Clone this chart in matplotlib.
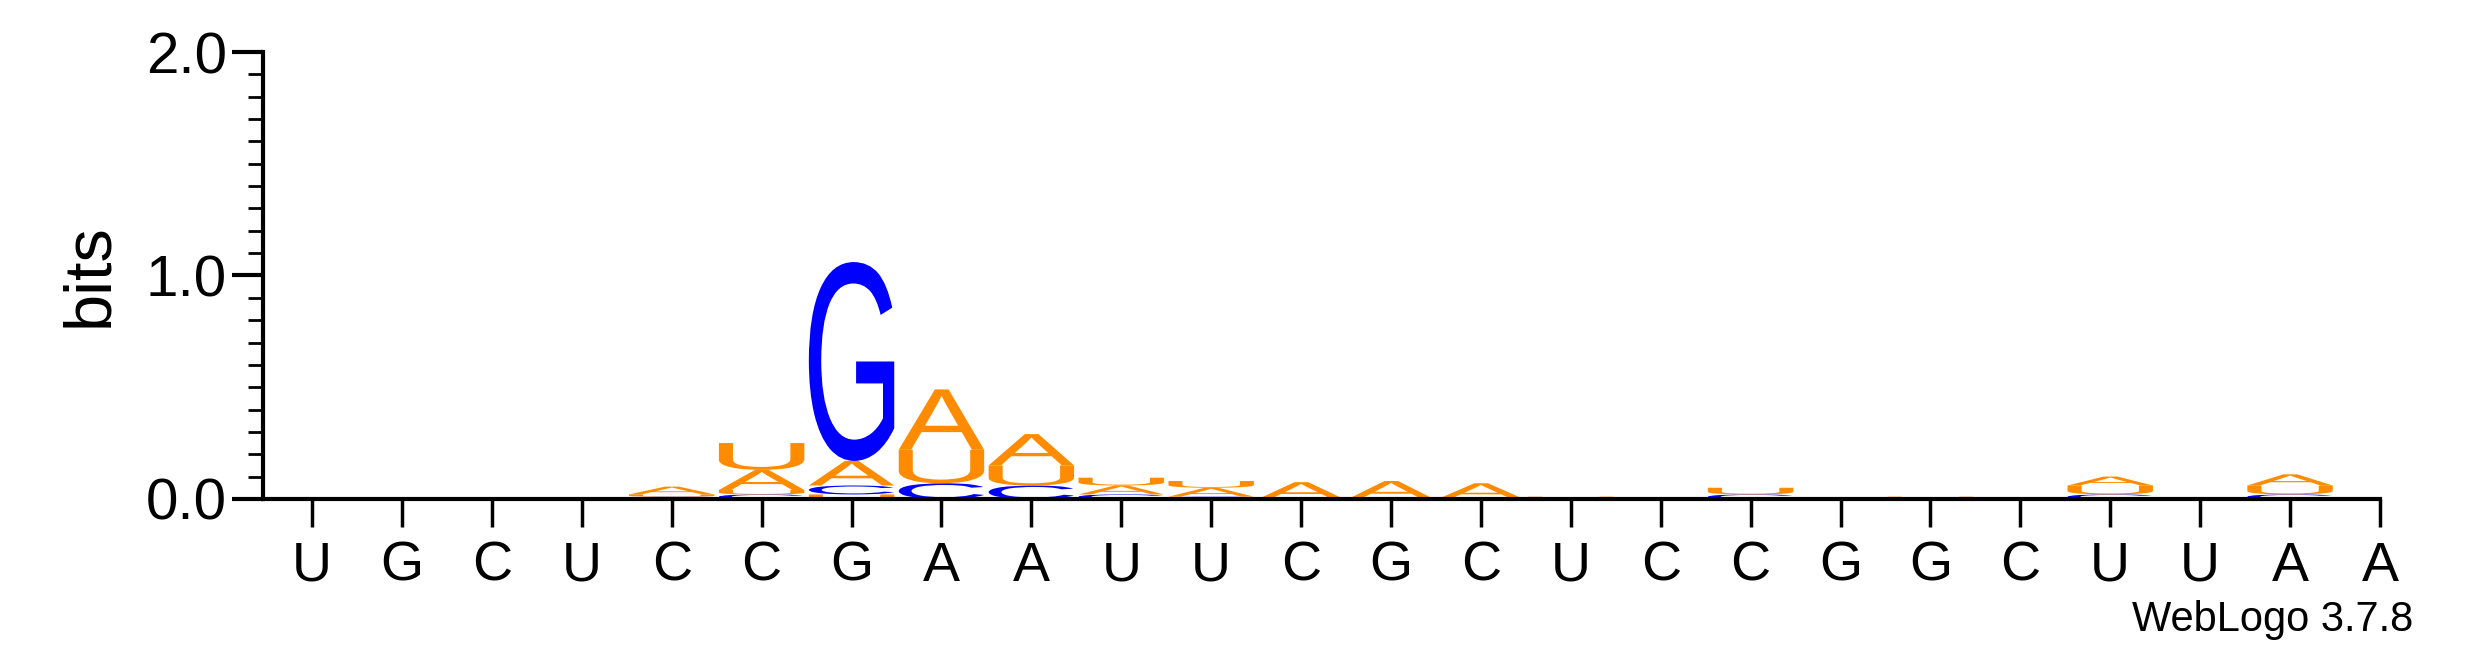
import matplotlib
matplotlib.use("Agg")
import matplotlib.pyplot as plt
from matplotlib.textpath import TextPath
from matplotlib.patches import PathPatch
from matplotlib.font_manager import FontProperties
from matplotlib.transforms import Affine2D

plt.rcParams["font.family"] = ["Liberation Sans", "DejaVu Sans"]

labels = list("UGCUCCGAAUUCGCUCCGGCUUAA")
# stacks per position (1-based), bottom to top: (letter, bits)
stacks = {
    5: [("C", 0.01), ("U", 0.01), ("A", 0.035)],
    6: [("C", 0.02), ("U", 0.02), ("A", 0.09), ("U", 0.12)],
    7: [("U", 0.02), ("C", 0.04), ("A", 0.11), ("G", 0.89)],
    8: [("C", 0.07), ("U", 0.15), ("A", 0.27)],
    9: [("C", 0.06), ("U", 0.09), ("A", 0.14)],
    10: [("C", 0.02), ("A", 0.04), ("U", 0.035)],
    11: [("C", 0.01), ("A", 0.04), ("U", 0.03)],
    12: [("A", 0.075)],
    13: [("A", 0.08)],
    14: [("A", 0.07)],
    15: [("U", 0.01)],
    17: [("C", 0.02), ("U", 0.03)],
    19: [("U", 0.01)],
    21: [("C", 0.02), ("U", 0.04), ("A", 0.04)],
    23: [("C", 0.02), ("U", 0.04), ("A", 0.05)],
}
colors = {"A": "#ff8c00", "U": "#ff8c00", "C": "#0000ff", "G": "#0000ff"}

fp = FontProperties(family="Liberation Sans")
fig = plt.figure(figsize=(24.75, 6.67), dpi=100)
ax = fig.add_axes([0.1063, 0.252, 0.9616 - 0.1063, 0.922 - 0.252])


def draw_letter(ax, ch, x, y, w, h):
    tp = TextPath((0, 0), ch, size=1, prop=fp)
    bb = tp.get_extents()
    t = Affine2D().translate(-bb.x0, -bb.y0).scale(w / bb.width, h / bb.height).translate(x - w / 2, y)
    ax.add_patch(PathPatch(t.transform_path(tp), fc=colors[ch], ec="none"))


for pos, stack in stacks.items():
    y = 0.0
    for ch, h in stack:
        draw_letter(ax, ch, pos, y, 0.95, h)
        y += h

ax.set_xlim(0.455, 24.0)
ax.set_ylim(0, 2.0)
ax.spines["top"].set_visible(False)
ax.spines["right"].set_visible(False)
for s in ("left", "bottom"):
    ax.spines[s].set_linewidth(3)
ax.set_xticks(range(1, 25))
ax.set_xticklabels(labels, fontsize=40)
ax.set_yticks([0, 1, 2])
ax.set_yticklabels(["0.0", "1.0", "2.0"], fontsize=42)
ax.set_yticks([i / 10 for i in range(21)], minor=True)
ax.tick_params(axis="x", length=20, width=2.5, pad=10)
ax.tick_params(axis="y", which="major", length=22, width=3, pad=4)
ax.tick_params(axis="y", which="minor", length=11, width=2)
ax.set_ylabel("bits", fontsize=48, labelpad=18)
fig.text(0.975, 0.04, "WebLogo 3.7.8", ha="right", va="bottom", fontsize=30)

fig.savefig("out.png", dpi=100)
